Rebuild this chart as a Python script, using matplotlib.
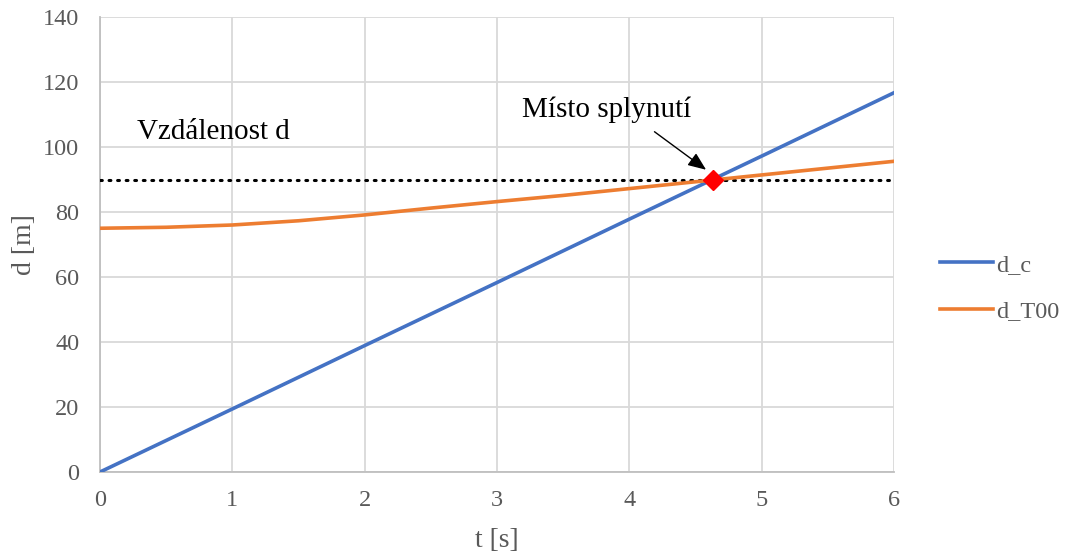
import matplotlib
matplotlib.use("Agg")
import matplotlib.pyplot as plt

# data
t_c = [0, 1, 2, 3, 4, 5, 6]
d_c = [0, 19.4, 38.9, 58.3, 77.8, 97.2, 116.7]

t_T00 = [0, 0.5, 1, 1.5, 2, 2.5, 3, 3.5, 4, 4.5, 5, 5.5, 6]
d_T00 = [75.0, 75.3, 76.0, 77.3, 79.1, 81.2, 83.2, 85.1, 87.2, 89.3, 91.4, 93.5, 95.6]

d_level = 90
t_meet, d_meet = 4.63, 90

grey = "#595959"
plt.rcParams["font.family"] = ["Liberation Serif", "DejaVu Serif"]

fig = plt.figure(figsize=(10.67, 5.54), dpi=100)
ax = fig.add_axes([100 / 1067, 1 - 472 / 554, 794 / 1067, 455 / 554])

ax.plot([t_c[0], t_c[-1]], [d_level, d_level], color="black", lw=2.2,
        linestyle=(0, (0.6, 2.2)), dash_capstyle="round", zorder=3)
l1, = ax.plot(t_c, d_c, color="#4472C4", lw=2.6, label="d_c", zorder=4)
l2, = ax.plot(t_T00, d_T00, color="#ED7D31", lw=2.6, label="d_T00", zorder=4)
ax.plot([t_meet], [d_meet], marker="D", color="red", markersize=10, zorder=5)

ax.text(0.28, 104.6, "Vzdálenost d", fontsize=21, va="center", ha="left")
ax.text(3.19, 111.4, "Místo splynutí", fontsize=21, va="center", ha="left")
ax.annotate("", xy=(4.58, 93.0), xytext=(4.19, 104.7),
            arrowprops=dict(arrowstyle="-|>,head_length=1.1,head_width=0.45",
                            color="black", lw=1.0, shrinkA=0, shrinkB=0))

ax.set_xlim(0, 6)
ax.set_ylim(0, 140)
ax.set_xticks(range(0, 7))
ax.set_yticks(range(0, 141, 20))
ax.grid(True, color="#d9d9d9", lw=1.3)
ax.set_axisbelow(True)
for s in ["top", "right"]:
    ax.spines[s].set_visible(False)
for s in ["left", "bottom"]:
    ax.spines[s].set_color("#bfbfbf")
    ax.spines[s].set_linewidth(1.3)
ax.tick_params(length=0, labelsize=17.5, labelcolor=grey)
ax.tick_params(axis="y", pad=15)
ax.tick_params(axis="x", pad=13)
ax.set_xlabel("t [s]", fontsize=20, color=grey, labelpad=12)
ax.set_ylabel("d [m]", fontsize=20, color=grey, labelpad=4)

fig.legend(handles=[l1, l2], loc="center left", bbox_to_anchor=(940 / 1067, 1 - 288 / 554),
           frameon=False, fontsize=17.5, labelcolor=grey, handlelength=2.2,
           handletextpad=0.12, labelspacing=1.0, borderpad=0, borderaxespad=0)

fig.savefig("out.png", dpi=100)
